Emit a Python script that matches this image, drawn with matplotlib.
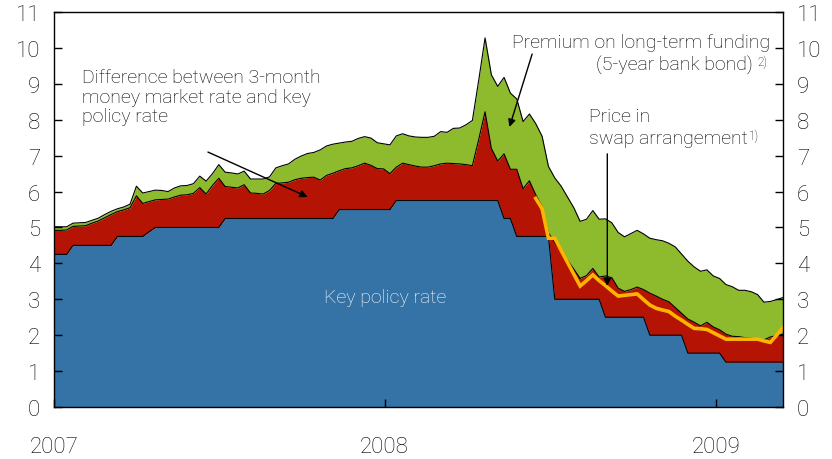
import pandas as pd
import matplotlib
matplotlib.use('Agg')
import matplotlib.pyplot as plt
import matplotlib.dates as mdates

plt.rcParams['font.family'] = ['Roboto', 'DejaVu Sans']
plt.rcParams['font.weight'] = 'light'

# Weekly observations, January 2007 to mid-March 2009
dates = pd.date_range('2007-01-01', periods=116, freq='7D')

# Key policy rate (per cent)
key_rate = [4.25, 4.25, 4.25, 4.50, 4.50, 4.50, 4.50, 4.50, 4.50, 4.50,
            4.75, 4.75, 4.75, 4.75, 4.75, 4.88, 5.00, 5.00, 5.00, 5.00,
            5.00, 5.00, 5.00, 5.00, 5.00, 5.00, 5.00, 5.25, 5.25, 5.25,
            5.25, 5.25, 5.25, 5.25, 5.25, 5.25, 5.25, 5.25, 5.25, 5.25,
            5.25, 5.25, 5.25, 5.25, 5.25, 5.50, 5.50, 5.50, 5.50, 5.50,
            5.50, 5.50, 5.50, 5.50, 5.75, 5.75, 5.75, 5.75, 5.75, 5.75,
            5.75, 5.75, 5.75, 5.75, 5.75, 5.75, 5.75, 5.75, 5.75, 5.75,
            5.75, 5.25, 5.25, 4.75, 4.75, 4.75, 4.75, 4.75, 4.75, 3.00,
            3.00, 3.00, 3.00, 3.00, 3.00, 3.00, 3.00, 2.50, 2.50, 2.50,
            2.50, 2.50, 2.50, 2.50, 2.00, 2.00, 2.00, 2.00, 2.00, 2.00,
            1.50, 1.50, 1.50, 1.50, 1.50, 1.50, 1.25, 1.25, 1.25, 1.25,
            1.25, 1.25, 1.25, 1.25, 1.25, 1.25]

# 3-month money market rate (top of the red band)
money_3m = [4.92, 4.92, 4.93, 5.03, 5.04, 5.05, 5.12, 5.18, 5.27, 5.36,
            5.44, 5.49, 5.55, 5.88, 5.67, 5.72, 5.77, 5.78, 5.79, 5.85,
            5.90, 5.91, 5.95, 6.11, 5.93, 6.17, 6.37, 6.14, 6.12, 6.10,
            6.19, 5.96, 5.95, 5.93, 6.03, 6.23, 6.24, 6.26, 6.33, 6.37,
            6.39, 6.40, 6.32, 6.45, 6.51, 6.58, 6.64, 6.66, 6.72, 6.79,
            6.73, 6.64, 6.63, 6.50, 6.68, 6.79, 6.75, 6.71, 6.68, 6.68,
            6.72, 6.77, 6.79, 6.78, 6.77, 6.75, 6.72, 7.45, 8.22, 7.20,
            6.85, 7.05, 6.62, 6.62, 6.08, 6.30, 5.91, 5.58, 4.85, 4.58,
            4.35, 4.09, 3.84, 3.58, 3.66, 3.86, 3.62, 3.65, 3.60, 3.31,
            3.22, 3.27, 3.34, 3.27, 3.17, 3.09, 3.00, 2.93, 2.77, 2.61,
            2.45, 2.36, 2.26, 2.36, 2.23, 2.15, 2.03, 1.97, 1.96, 1.93,
            1.92, 1.89, 1.87, 1.95, 1.99, 2.03]

# 5-year bank bond yield (top of the green band)
bond_5y = [5.02, 5.02, 5.02, 5.12, 5.13, 5.14, 5.20, 5.26, 5.36, 5.45,
           5.52, 5.57, 5.65, 6.15, 5.96, 6.00, 6.04, 6.03, 6.00, 6.10,
           6.16, 6.17, 6.22, 6.43, 6.29, 6.50, 6.75, 6.54, 6.52, 6.49,
           6.57, 6.35, 6.35, 6.35, 6.41, 6.66, 6.72, 6.77, 6.90, 6.99,
           7.06, 7.09, 7.16, 7.27, 7.32, 7.35, 7.38, 7.40, 7.48, 7.53,
           7.49, 7.36, 7.33, 7.30, 7.55, 7.61, 7.55, 7.52, 7.51, 7.51,
           7.54, 7.67, 7.65, 7.76, 7.77, 7.86, 7.98, 9.10, 10.28, 9.25,
           8.93, 9.18, 8.74, 8.58, 7.95, 8.16, 7.89, 7.54, 6.70, 6.38,
           6.15, 5.85, 5.55, 5.17, 5.23, 5.47, 5.23, 5.24, 5.13, 4.86,
           4.74, 4.83, 4.92, 4.82, 4.70, 4.66, 4.63, 4.56, 4.46, 4.26,
           4.06, 3.90, 3.78, 3.82, 3.65, 3.58, 3.41, 3.35, 3.25, 3.25,
           3.21, 3.13, 2.92, 2.94, 2.99, 3.05]

# Price in swap arrangement, available from June 2008
swap_dates = dates[76:]
swap_price = [5.81, 5.52, 4.70, 4.70, 4.36, 4.03, 3.70, 3.37, 3.52, 3.68,
              3.52, 3.38, 3.23, 3.09, 3.11, 3.13, 3.15, 2.99, 2.84, 2.75,
              2.70, 2.66, 2.53, 2.42, 2.30, 2.19, 2.18, 2.16, 2.07, 1.98,
              1.89, 1.89, 1.89, 1.89, 1.89, 1.89, 1.84, 1.80, 2.00, 2.22]

blue = '#3572a5'
red = '#b51405'
green = '#8dbb2d'
yellow = '#ffb400'

fig = plt.figure(figsize=(8.32, 4.6), dpi=100)
ax = fig.add_axes([0.0649, 0.113, 0.8762, 0.8587])

ax.fill_between(dates, 0, key_rate, color=blue, lw=0)
ax.fill_between(dates, key_rate, money_3m, color=red, lw=0)
ax.fill_between(dates, money_3m, bond_5y, color=green, lw=0)
ax.plot(dates, key_rate, color='black', lw=0.8)
ax.plot(dates, money_3m, color='black', lw=0.8)
ax.plot(dates, bond_5y, color='black', lw=0.8)
ax.plot(swap_dates, swap_price, color=yellow, lw=2.6, solid_joinstyle='miter')

ax.set_xlim(dates[0], dates[-1])
ax.set_ylim(0, 11)
ax.set_yticks(range(0, 12))
ax.xaxis.set_major_locator(mdates.YearLocator())
ax.xaxis.set_major_formatter(mdates.DateFormatter('%Y'))

ax.tick_params(axis='y', direction='in', length=6, width=1, labelsize=16,
               left=True, right=True, labelleft=True, labelright=True, pad=10)
ax.tick_params(axis='x', direction='in', length=6, width=1, labelsize=16, pad=21)
for s in ax.spines.values():
    s.set_linewidth(1)
    s.set_color('black')

fs = 14
ax.text(0.038, 0.858, 'Difference between 3-month\nmoney market rate and key\npolicy rate',
        transform=ax.transAxes, fontsize=fs, va='top', ha='left', linespacing=1.12)
ax.text(0.454, 0.278, 'Key policy rate', transform=ax.transAxes, fontsize=fs,
        color='white', ha='center', va='center')
ax.text(0.982, 0.924, 'Premium on long-term funding', transform=ax.transAxes,
        fontsize=fs, ha='right', va='center')
t2 = ax.text(0.959, 0.867, '(5-year bank bond)', transform=ax.transAxes,
             fontsize=fs, ha='right', va='center')
ax.annotate('2)', xy=(1, 1), xycoords=t2, xytext=(3, 0), textcoords='offset points',
            fontsize=8.5, ha='left', va='top')
ax.text(0.734, 0.737, 'Price in', transform=ax.transAxes, fontsize=fs,
        ha='left', va='center')
t3 = ax.text(0.734, 0.681, 'swap arrangement', transform=ax.transAxes, fontsize=fs,
             ha='left', va='center')
ax.annotate('1)', xy=(1, 1), xycoords=t3, xytext=(1, 0), textcoords='offset points',
            fontsize=8.5, ha='left', va='top')

arrow = dict(arrowstyle='-|>', color='black', lw=1, mutation_scale=11, shrinkA=0, shrinkB=0)
ax.annotate('', xy=(pd.Timestamp('2007-10-08'), 5.85), xytext=(pd.Timestamp('2007-06-20'), 7.10),
            arrowprops=arrow)
ax.annotate('', xy=(pd.Timestamp('2008-05-18'), 7.8), xytext=(pd.Timestamp('2008-06-12'), 9.83),
            arrowprops=arrow)
ax.annotate('', xy=(pd.Timestamp('2008-09-03'), 3.37), xytext=(pd.Timestamp('2008-09-03'), 7.05),
            arrowprops=arrow)

fig.savefig('out.png', dpi=100)
